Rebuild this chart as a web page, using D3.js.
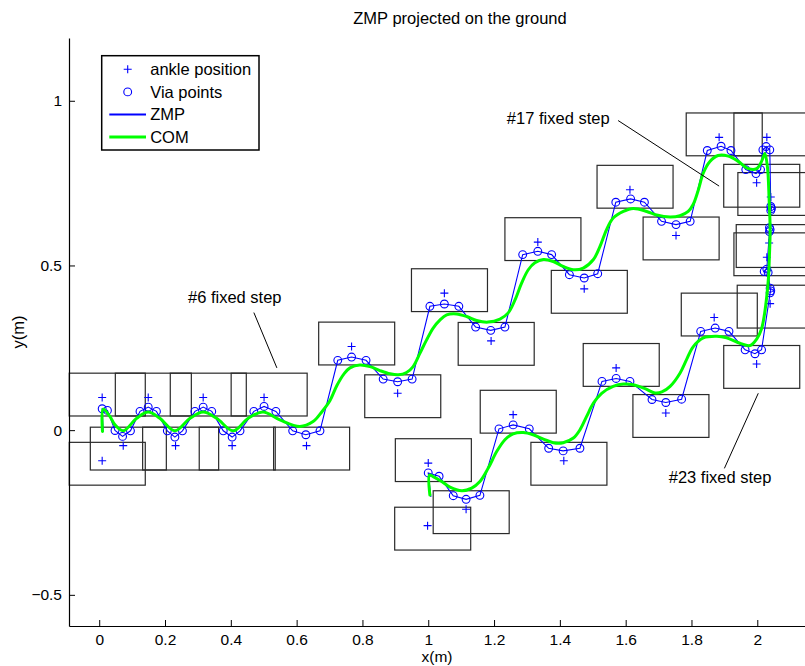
<!DOCTYPE html>
<html>
<head>
<meta charset="utf-8">
<script src="https://cdn.jsdelivr.net/npm/d3@7"></script>
<style>
  body { margin: 0; background: #fff; }
  svg { display: block; }
  text { font-family: "Liberation Sans", Arial, Helvetica, sans-serif; fill: #000; }
</style>
</head>
<body>
<svg id="chart" width="805" height="666"></svg>
<script>
// Ankle positions of every footstep (m), in walking order
const ankleX = [0.009, 0.009, 0.073, 0.149, 0.232, 0.316, 0.404, 0.501, 0.630, 0.767, 0.907,
                1.049, 1.191, 1.333, 1.474, 1.613, 1.753, 1.884, 1.998, 2.029, 2.041, 2.036,
                2.029, 2.039, 1.998, 1.869, 1.722, 1.571, 1.412, 1.258, 1.115, 1.000, 0.998];
const ankleY = [-0.093, 0.099, -0.047, 0.099, -0.047, 0.099, -0.047, 0.099, -0.047, 0.254, 0.112,
                0.416, 0.271, 0.571, 0.429, 0.730, 0.591, 0.889, 0.751, 0.889, 0.708, 0.568,
                0.525, 0.384, 0.201, 0.342, 0.052, 0.189, -0.093, 0.047, -0.240, -0.100, -0.290];
// Which side of the sole is the wide one: "up" = outer edge towards +y
const footSide = ["down", "up", "down", "up", "down", "up", "down", "up", "down", "up", "down",
                  "up", "down", "up", "down", "up", "down", "up", "down", "up", "up", "down",
                  "up", "down", "down", "up", "down", "up", "down", "up", "down", "up", "down"];
// Sole geometry around the ankle (m)
const soleHeel = 0.100, soleToe = 0.131, soleOuter = 0.074, soleInner = 0.056;

// ZMP via points (m), in the order the ZMP passes them
const viaX = [0.009, 0.025,
  0.048, 0.071, 0.095,  0.124, 0.149, 0.174,  0.207, 0.230, 0.253,  0.291, 0.316, 0.342,
  0.377, 0.404, 0.428,  0.470, 0.501, 0.537,  0.588, 0.628, 0.671,  0.725, 0.767, 0.811,
  0.863, 0.907, 0.951,  1.005, 1.049, 1.093,  1.144, 1.190, 1.233,  1.287, 1.333, 1.375,
  1.429, 1.474, 1.515,  1.570, 1.615, 1.657,  1.709, 1.753, 1.796,  1.848, 1.890, 1.920,
  1.965, 1.996, 2.010,  2.017, 2.027, 2.038,  2.041, 2.043, 2.041,  2.037, 2.039, 2.037,
  2.029, 2.021, 2.033,  2.039, 2.041, 2.039,  2.013, 1.993, 1.963,  1.914, 1.872, 1.828,
  1.770, 1.722, 1.680,  1.613, 1.571, 1.528,  1.461, 1.410, 1.366,  1.307, 1.258, 1.215,
  1.157, 1.115, 1.076,  1.033, 1.000];
const viaY = [0.065, 0.060,
  -0.001, -0.019, -0.002,  0.057, 0.070, 0.057,  -0.002, -0.021, -0.002,  0.057, 0.070, 0.057,
  -0.002, -0.021, -0.002,  0.057, 0.072, 0.057,  -0.002, -0.014, -0.002,  0.212, 0.222, 0.212,
  0.155, 0.147, 0.155,  0.376, 0.383, 0.376,  0.313, 0.303, 0.313,  0.533, 0.543, 0.533,
  0.472, 0.462, 0.475,  0.692, 0.702, 0.692,  0.634, 0.624, 0.634,  0.849, 0.862, 0.849,
  0.791, 0.779, 0.791,  0.851, 0.861, 0.851,  0.679, 0.673, 0.667,  0.615, 0.609, 0.603,
  0.489, 0.482, 0.479,  0.431, 0.423, 0.417,  0.244, 0.232, 0.244,  0.300, 0.310, 0.300,
  0.094, 0.084, 0.093,  0.148, 0.157, 0.148,  -0.055, -0.063, -0.055,  0.004, 0.016, 0.004,
  -0.198, -0.210, -0.199,  -0.140, -0.130];
// ZMP start and end (between both feet)
const zmpStart = [0.012, -0.005];
const zmpEnd = [1.008, -0.203];

// Centre of mass trajectory (m)
const comX = [0.010, 0.012, 0.033, 0.048, 0.073, 0.114, 0.149, 0.184, 0.230, 0.276, 0.316, 0.357,
  0.407, 0.453, 0.498, 0.549, 0.610, 0.650, 0.677, 0.701, 0.722, 0.744, 0.762, 0.792, 0.823,
  0.853, 0.884, 0.909, 0.934, 0.954, 0.975, 0.995, 1.015, 1.036, 1.056, 1.086, 1.117, 1.147,
  1.181, 1.218, 1.243, 1.264, 1.284, 1.304, 1.324, 1.350, 1.380, 1.410, 1.441, 1.471, 1.502,
  1.522, 1.542, 1.562, 1.593, 1.623, 1.664, 1.694, 1.735, 1.765, 1.790, 1.805, 1.821, 1.836,
  1.856, 1.881, 1.912, 1.942, 1.973, 1.998, 2.013, 2.023, 2.031, 2.036, 2.039, 2.037, 2.034,
  2.029, 2.022, 2.013, 1.999, 1.978, 1.947, 1.907, 1.877, 1.836, 1.805, 1.785, 1.765, 1.735,
  1.710, 1.689, 1.659, 1.623, 1.593, 1.562, 1.527, 1.502, 1.481, 1.461, 1.441, 1.410, 1.380,
  1.350, 1.319, 1.289, 1.258, 1.233, 1.208, 1.182, 1.157, 1.132, 1.102, 1.066, 1.041, 1.015,
  1.004, 1.005];
const comY = [-0.004, 0.064, 0.041, 0.016, -0.002, 0.036, 0.055, 0.036, -0.002, 0.036, 0.055, 0.036,
  -0.002, 0.036, 0.055, 0.031, 0.011, 0.026, 0.056, 0.089, 0.135, 0.171, 0.189, 0.198, 0.193,
  0.181, 0.171, 0.168, 0.175, 0.193, 0.234, 0.274, 0.310, 0.335, 0.350, 0.353, 0.345, 0.333,
  0.328, 0.337, 0.356, 0.396, 0.447, 0.487, 0.508, 0.518, 0.512, 0.497, 0.487, 0.492, 0.518,
  0.558, 0.609, 0.644, 0.664, 0.673, 0.664, 0.653, 0.647, 0.651, 0.664, 0.685, 0.730, 0.781,
  0.816, 0.834, 0.832, 0.816, 0.794, 0.794, 0.816, 0.840, 0.797, 0.700, 0.609, 0.533, 0.463,
  0.408, 0.353, 0.308, 0.278, 0.257, 0.264, 0.280, 0.285, 0.280, 0.253, 0.214, 0.173, 0.133,
  0.116, 0.113, 0.126, 0.138, 0.140, 0.133, 0.112, 0.082, 0.041, 0.001, -0.024, -0.038, -0.038,
  -0.027, -0.014, -0.007, -0.011, -0.029, -0.065, -0.116, -0.156, -0.176, -0.184, -0.173, -0.156,
  -0.141, -0.136, -0.197];

// Axis ticks
const xTicks = [0, 0.2, 0.4, 0.6, 0.8, 1, 1.2, 1.4, 1.6, 1.8, 2];
const yTicks = [-0.5, 0, 0.5, 1];

// Step annotations: label anchor and leader line (m)
const noteText = ["#6 fixed step", "#17 fixed step", "#23 fixed step"];
const noteX = [0.412, 1.395, 1.887];
const noteY = [0.387, 0.931, -0.160];
const leadFrom = [[0.470, 0.357], [1.577, 0.940], [2.003, 0.112]];
const leadTo = [[0.540, 0.189], [1.884, 0.741], [1.900, -0.116]];

const svg = d3.select("#chart");
const x = d3.scaleLinear().domain([-0.0918, 2.145]).range([69, 805]);
const y = d3.scaleLinear().domain([-0.5946, 1.1906]).range([626, 38]);
const blue = "#0000ff", green = "#00ff00";
const fmt = d3.format("~g");

// Footprints
const feet = svg.append("g").attr("fill", "none").attr("stroke", "#2a2a2a").attr("stroke-width", 1.2);
ankleX.forEach((ax, i) => {
  const ay = ankleY[i];
  const top = footSide[i] === "up" ? ay + soleOuter : ay + soleInner;
  const bot = footSide[i] === "up" ? ay - soleInner : ay - soleOuter;
  feet.append("rect")
    .attr("x", x(ax - soleHeel)).attr("y", y(top))
    .attr("width", x(ax + soleToe) - x(ax - soleHeel))
    .attr("height", y(bot) - y(top));
});

// Ankle markers
const plus = (g, px, py, h) => g.append("path")
  .attr("d", `M${px - h},${py}H${px + h}M${px},${py - h}V${py + h}`)
  .attr("stroke", blue).attr("stroke-width", 1.1).attr("fill", "none");
const ankles = svg.append("g");
ankleX.forEach((ax, i) => plus(ankles, x(ax), y(ankleY[i]), 4));

// ZMP
const zmpPts = [zmpStart].concat(viaX.map((v, i) => [v, viaY[i]]), [zmpEnd]);
svg.append("path")
  .attr("d", d3.line().x(d => x(d[0])).y(d => y(d[1]))(zmpPts))
  .attr("fill", "none").attr("stroke", blue).attr("stroke-width", 1.1);

// Via points
svg.append("g").selectAll("circle").data(viaX).join("circle")
  .attr("cx", d => x(d)).attr("cy", (d, i) => y(viaY[i])).attr("r", 3.9)
  .attr("fill", "none").attr("stroke", blue).attr("stroke-width", 1.1);

// COM
svg.append("path")
  .attr("d", d3.line().x((d, i) => x(comX[i])).y((d, i) => y(comY[i]))
    .curve(d3.curveCatmullRom.alpha(0.5))(comX))
  .attr("fill", "none").attr("stroke", green).attr("stroke-width", 3)
  .attr("stroke-linejoin", "round").attr("stroke-linecap", "round");

// Annotations
noteText.forEach((t, i) => {
  svg.append("line")
    .attr("x1", x(leadFrom[i][0])).attr("y1", y(leadFrom[i][1]))
    .attr("x2", x(leadTo[i][0])).attr("y2", y(leadTo[i][1]))
    .attr("stroke", "#000").attr("stroke-width", 1);
  svg.append("text").attr("x", x(noteX[i])).attr("y", y(noteY[i]))
    .attr("text-anchor", "middle").attr("font-size", 16.5).text(t);
});

// Axes
const xAxis = svg.append("g").attr("transform", "translate(0,626)")
  .call(d3.axisBottom(x).tickValues(xTicks).tickFormat(fmt).tickSizeInner(-6).tickSizeOuter(0).tickPadding(8));
const yAxis = svg.append("g").attr("transform", "translate(69,0)")
  .call(d3.axisLeft(y).tickValues(yTicks).tickFormat(fmt).tickSizeInner(-6).tickSizeOuter(0).tickPadding(7));
[xAxis, yAxis].forEach(a => {
  a.selectAll("path.domain").attr("stroke", "#000").attr("stroke-width", 1.2);
  a.selectAll(".tick line").attr("stroke", "#000");
  a.selectAll(".tick text").attr("font-size", 15.5).attr("font-family", "Liberation Sans, Arial, sans-serif").attr("fill", "#000");
});

// Titles
svg.append("text").attr("x", 460).attr("y", 24).attr("text-anchor", "middle")
  .attr("font-size", 16.5).text("ZMP projected on the ground");
svg.append("text").attr("x", 437).attr("y", 662).attr("text-anchor", "middle")
  .attr("font-size", 15.5).text("x(m)");
svg.append("text").attr("transform", "translate(24,332) rotate(-90)").attr("text-anchor", "middle")
  .attr("font-size", 16.5).text("y(m)");

// Legend
const lg = svg.append("g").attr("transform", "translate(101.7,55.7)");
lg.append("rect").attr("width", 157.3).attr("height", 94.3)
  .attr("fill", "#fff").attr("stroke", "#000").attr("stroke-width", 1.5);
const rows = ["ankle position", "Via points", "ZMP", "COM"];
rows.forEach((r, i) => {
  const cy = 13.6 + i * 22.6;
  if (i === 0) plus(lg, 26, cy, 4);
  if (i === 1) lg.append("circle").attr("cx", 26).attr("cy", cy).attr("r", 3.9)
    .attr("fill", "none").attr("stroke", blue).attr("stroke-width", 1.1);
  if (i === 2) lg.append("line").attr("x1", 7.6).attr("x2", 44.3).attr("y1", cy).attr("y2", cy)
    .attr("stroke", blue).attr("stroke-width", 2);
  if (i === 3) lg.append("line").attr("x1", 7.6).attr("x2", 44.3).attr("y1", cy).attr("y2", cy)
    .attr("stroke", green).attr("stroke-width", 3);
  lg.append("text").attr("x", 48.5).attr("y", cy).attr("dy", "0.36em")
    .attr("font-size", 16.5).attr("fill", "#4a3c2e").text(r);
});
</script>
</body>
</html>
